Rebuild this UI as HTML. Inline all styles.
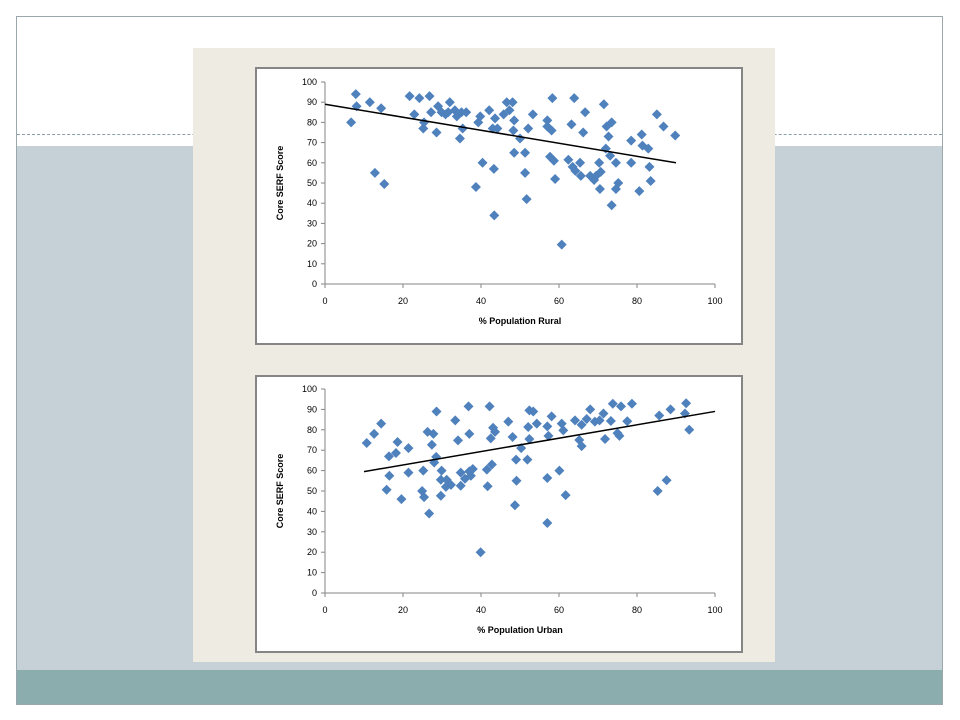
<!DOCTYPE html>
<html><head><meta charset="utf-8"><style>
body{margin:0;width:960px;height:720px;background:#fff;position:relative;overflow:hidden;font-family:"Liberation Sans",sans-serif}
.abs{position:absolute}
</style></head><body>
<div class="abs" style="left:16px;top:16px;width:927px;height:689px;border:1px solid #9aa8ab;box-sizing:border-box"></div>
<div class="abs" style="left:17px;top:134px;width:925px;border-top:1px dashed #8aa0a4"></div>
<div class="abs" style="left:17px;top:146px;width:925px;height:524px;background:#c5d1d6"></div>
<div class="abs" style="left:17px;top:670px;width:925px;height:34px;background:#8badae"></div>
<div class="abs" style="left:193px;top:48px;width:582px;height:614px;background:#eeebe2"></div>
<svg class="abs" style="left:0;top:0" width="960" height="720" id="svg"></svg>
<script>
const ruralX=[6.7,7.9,8.1,11.5,12.8,14.4,15.2,21.7,22.9,24.2,25.4,25.2,26.8,27.2,28.6,29,29.9,30.9,32,31.6,33.3,33.8,34.6,35,35.3,36.2,38.7,39.3,39.8,40.4,42.1,43,43.3,43.4,43.6,44.2,45.8,46.6,47.3,48.1,48.3,48.5,48.5,50,51.3,51.3,51.7,52.1,53.3,57,57,57.7,58.1,58.3,58.7,59,60.7,62.4,63.2,63.5,63.9,64.2,65.4,65.6,66.2,66.7,68,69,69.5,70.3,70.7,70.5,71.5,72,72.2,72.7,73.1,73.5,73.5,74.6,74.6,75.2,78.5,78.5,80.6,81.2,81.4,82.9,83.2,83.5,85.1,86.8,89.8];
const ruralY=[80,94,88,90,55,87,49.5,93,84,92,80,77,93,85,75,88,85,84,90,85,86,83,72,85,77,85,48,80,83,60,86,77,57,34,82,77,84,90,86,90,76,81,65,72,65,55,42,77,84,81,78,63,76,92,61,52,19.5,61.5,79,58,92,56,60,53.5,75,85,53.5,51.5,53.5,60,55.5,47,89,67,78,73,63.5,80,39,60,47,50,71,60,46,74,68.5,67,58,51,84,78,73.5];
const ruralTrend=[[0,89],[90,60]];
const urbanX=[10.7,12.6,14.4,16.4,16.5,15.8,18.2,18.6,19.6,21.4,21.4,25.2,24.9,25.4,26.3,26.7,27.4,27.8,28.5,28.6,28,29.9,29.7,29.7,31,31.2,32.3,33.4,34.1,34.8,34.8,35.9,36.8,37,37,37.4,37.9,39.9,41.5,41.7,42.2,42.5,42.8,43.1,43.6,47,48.1,48.7,49,49.1,50.3,51.9,52.1,52.4,52.4,53.4,54.3,57,57,57,57.3,58.1,60.1,60.7,61.1,61.7,64.1,65.2,65.8,65.8,67.1,68,69.2,70.4,71.4,71.8,73.3,73.8,75,75.5,75.9,77.5,78.7,85.3,85.7,87.6,88.6,92.3,92.6,93.4];
const urbanY=[73.5,78,83,67,57.5,50.6,68.6,74,46,71,59,60,50,47,79,39,72.7,78,66.7,89,64,60,55.5,47.7,52,55.5,53,84.6,74.8,52.6,59,56,91.5,78,59.6,57.5,60.8,20,60.5,52.3,91.5,75.8,63,81,79,84,76.5,43,65.4,55,71,65.4,81.4,75.5,89.5,89,83,81.7,56.4,34.3,77,86.6,60,83,79.7,48,84.6,75,72,82.5,85.3,90,84,84.6,88,75.5,84.3,92.8,78.4,77,91.5,84.2,92.8,50,87,55.3,90,88,93,80];
const urbanTrend=[[10,59.5],[100,89]];
const yTicks=[0,10,20,30,40,50,60,70,80,90,100];
const xTicks=[0,20,40,60,80,100];
const NS='http://www.w3.org/2000/svg';
const svg=document.getElementById('svg');
function mk(tag,attrs,parent){const e=document.createElementNS(NS,tag);for(const k in attrs)e.setAttribute(k,attrs[k]);(parent||svg).appendChild(e);return e;}
function chart(name,box,plot,xs,ys,trend,xTitle){
  const g=mk('g',{});
  
  
  const bg=mk('rect',{x:box.x,y:box.y,width:box.w,height:box.h,fill:'#fff',stroke:'#858585','stroke-width':2},g);
  
  
  const sx=v=>plot.x0+(plot.x1-plot.x0)*v/100;
  const sy=v=>plot.y0-(plot.y0-plot.y1)*v/100;
  const ya=mk('line',{x1:plot.x0,y1:plot.y0,x2:plot.x0,y2:plot.y1,stroke:'#868686','stroke-width':1},g);
  
  
  const xa=mk('line',{x1:plot.x0,y1:plot.y0,x2:plot.x1,y2:plot.y0,stroke:'#868686','stroke-width':1},g);
  
  
  yTicks.forEach(t=>{
    mk('line',{x1:plot.x0-4,x2:plot.x0,y1:sy(t),y2:sy(t),stroke:'#868686'},g);
    const tx=mk('text',{x:plot.x0-8,y:sy(t)+3,'text-anchor':'end','font-size':9,fill:'#000'},g);
    tx.textContent=t;
    
    
  });
  xTicks.forEach(t=>{
    mk('line',{x1:sx(t),x2:sx(t),y1:plot.y0,y2:plot.y0+4,stroke:'#868686'},g);
    const tx=mk('text',{x:sx(t),y:plot.y0+20,'text-anchor':'middle','font-size':9,fill:'#000'},g);
    tx.textContent=t;
    
    
  });
  const xt=mk('text',{x:(plot.x0+plot.x1)/2,y:plot.y0+40,'text-anchor':'middle','font-size':9,'font-weight':'bold',fill:'#000'},g);
  xt.textContent=xTitle;
  
  
  const yx=box.x+27, yy=(plot.y0+plot.y1)/2;
  const yt=mk('text',{x:yx,y:yy,'text-anchor':'middle','font-size':9,'font-weight':'bold',fill:'#000',transform:`rotate(-90 ${yx} ${yy})`},g);
  yt.textContent='Core SERF Score';
  
  
  xs.forEach((v,i)=>{
    const cx=sx(v),cy=sy(ys[i]);
    const p=mk('polygon',{points:`${cx},${cy-5} ${cx+5},${cy} ${cx},${cy+5} ${cx-5},${cy}`,fill:'#4f81bd'},g);
    
    
  });
  const tl=mk('line',{x1:sx(trend[0][0]),y1:sy(trend[0][1]),x2:sx(trend[1][0]),y2:sy(trend[1][1]),stroke:'#000','stroke-width':1.5},g);
  
  
}
chart('rural-scatter-chart',{x:256,y:68,w:486,h:276},{x0:325,x1:715,y0:284,y1:82},ruralX,ruralY,ruralTrend,'% Population Rural');
chart('urban-scatter-chart',{x:256,y:376,w:486,h:276},{x0:325,x1:715,y0:593,y1:389},urbanX,urbanY,urbanTrend,'% Population Urban');
</script>
</body></html>
